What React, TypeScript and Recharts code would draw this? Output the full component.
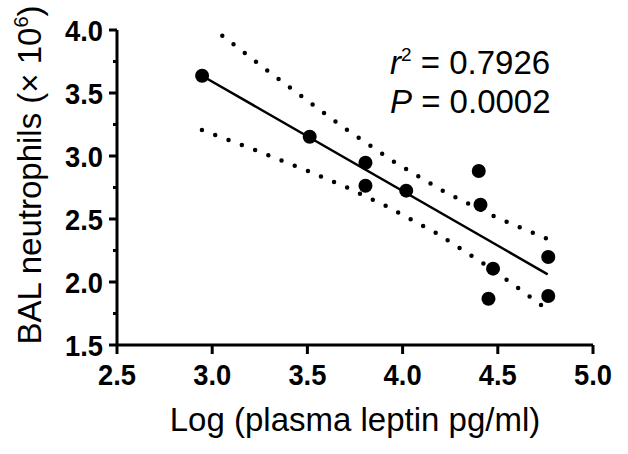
import React from 'react';
import { ScatterChart, Scatter, XAxis, YAxis, Label } from 'recharts';

// Observed points
const leptinLog = [2.947, 3.512, 3.805, 3.805, 4.019, 4.4, 4.409, 4.475, 4.451, 4.765, 4.765];
const balNeutrophils = [3.637, 3.153, 2.947, 2.764, 2.725, 2.881, 2.613, 2.106, 1.867, 2.198, 1.889];

// Regression line
const fitX = [2.946, 4.762];
const fitY = [3.637, 2.061];

// 95% confidence band, upper
const upperX = [3.053, 3.291, 3.53, 3.711, 3.962, 4.219, 4.488, 4.762];
const upperY = [3.955, 3.677, 3.405, 3.204, 2.947, 2.717, 2.516, 2.341];

// 95% confidence band, lower
const lowerX = [2.946, 3.226, 3.504, 3.711, 3.916, 4.179, 4.432, 4.614, 4.763];
const lowerY = [3.206, 3.048, 2.881, 2.748, 2.601, 2.387, 2.14, 1.944, 1.778];

const xTicks = [2.5, 3.0, 3.5, 4.0, 4.5, 5.0];
const yTicks = [1.5, 1.75, 2.0, 2.25, 2.5, 2.75, 3.0, 3.25, 3.5, 3.75, 4.0];
const yMajorTicks = [1.5, 2.0, 2.5, 3.0, 3.5, 4.0];

const xTitle = 'Log (plasma leptin pg/ml)';
const yTitle = 'BAL neutrophils (× 10';
const yTitleSup = '6';
const rSquaredText = '0.7926';
const pValueText = '0.0002';

const zip = (xs: number[], ys: number[]) => xs.map((x, i) => ({ x, y: ys[i] }));

const pointsData = zip(leptinLog, balNeutrophils);
const fitData = zip(fitX, fitY);
const upperData = zip(upperX, upperY);
const lowerData = zip(lowerX, lowerY);

const FONT = '"Liberation Sans", Arial, Helvetica, sans-serif';

const YTick = (props: any) => {
  const { x, y, payload } = props;
  const major = yMajorTicks.some((t) => Math.abs(t - payload.value) < 1e-9);
  return (
    <g>
      <line x1={x - (major ? 8 : 4)} x2={x} y1={y} y2={y} stroke="#000" strokeWidth={3} />
      {major && (
        <text
          x={x - 14}
          y={y}
          dy="0.36em"
          textAnchor="end"
          fontFamily={FONT}
          fontWeight="bold"
          fontSize={30}
          textLength={38}
          lengthAdjust="spacingAndGlyphs"
          fill="#000"
        >
          {payload.value.toFixed(1)}
        </text>
      )}
    </g>
  );
};

const XTick = (props: any) => {
  const { x, y, payload } = props;
  return (
    <g>
      <line x1={x} x2={x} y1={y} y2={y + 9} stroke="#000" strokeWidth={3} />
      <text
        x={x}
        y={y + 40}
        textAnchor="middle"
        fontFamily={FONT}
        fontWeight="bold"
        fontSize={30}
        textLength={38}
        lengthAdjust="spacingAndGlyphs"
        fill="#000"
      >
        {payload.value.toFixed(1)}
      </text>
    </g>
  );
};

const NoShape = () => <g />;

export default function App() {
  return (
    <div style={{ position: 'absolute', left: 0, top: 0, width: 628, height: 454, background: '#fff' }}>
      <ScatterChart width={628} height={454} margin={{ top: 30, right: 35, bottom: 0, left: 0 }}>
        <XAxis
          type="number"
          dataKey="x"
          domain={[2.5, 5]}
          ticks={xTicks}
          interval={0}
          height={109}
          tickSize={0}
          tickMargin={0}
          tick={<XTick />}
          axisLine={{ stroke: '#000', strokeWidth: 3 }}
          tickLine={false}
          allowDataOverflow
        >
          <Label
            content={() => (
              <text x={355} y={431} textAnchor="middle" fontFamily={FONT} fontSize={33} fill="#000">
                {xTitle}
              </text>
            )}
          />
        </XAxis>
        <YAxis
          type="number"
          dataKey="y"
          domain={[1.5, 4]}
          ticks={yTicks}
          interval={0}
          width={117}
          tickSize={0}
          tickMargin={0}
          tick={<YTick />}
          axisLine={{ stroke: '#000', strokeWidth: 3 }}
          tickLine={false}
          allowDataOverflow
        >
          <Label
            content={() => (
              <g>
                <text
                  transform="translate(41, 175) rotate(-90)"
                  textAnchor="middle"
                  fontFamily={FONT}
                  fontSize={33}
                  fill="#000"
                >
                  {yTitle}
                  <tspan fontSize={20} dy={-13}>{yTitleSup}</tspan>
                  <tspan dy={13}>)</tspan>
                </text>
                <text x={390} y={74} fontFamily={FONT} fontSize={33} fill="#000">
                  <tspan fontStyle="italic">r</tspan>
                  <tspan fontSize={19} dy={-13}>2</tspan>
                  <tspan dy={13}>{' = ' + rSquaredText}</tspan>
                </text>
                <text x={390} y={113} fontFamily={FONT} fontSize={33} fill="#000">
                  <tspan fontStyle="italic">P</tspan>
                  <tspan>{' = ' + pValueText}</tspan>
                </text>
              </g>
            )}
          />
        </YAxis>
        <Scatter
          data={upperData}
          isAnimationActive={false}
          shape={<NoShape />}
          line={{ stroke: '#000', strokeWidth: 4.5, strokeDasharray: '0 14.2', strokeLinecap: 'round', fill: 'none' }}
          legendType="none"
        />
        <Scatter
          data={lowerData}
          isAnimationActive={false}
          shape={<NoShape />}
          line={{ stroke: '#000', strokeWidth: 4.5, strokeDasharray: '0 14.2', strokeLinecap: 'round', fill: 'none' }}
          legendType="none"
        />
        <Scatter
          data={fitData}
          isAnimationActive={false}
          shape={<NoShape />}
          line={{ stroke: '#000', strokeWidth: 2.5, fill: 'none' }}
          legendType="none"
        />
        <Scatter
          data={pointsData}
          isAnimationActive={false}
          fill="#000"
          shape={(p: any) => <circle cx={p.cx} cy={p.cy} r={7} fill="#000" />}
          legendType="none"
        />
      </ScatterChart>
    </div>
  );
}
